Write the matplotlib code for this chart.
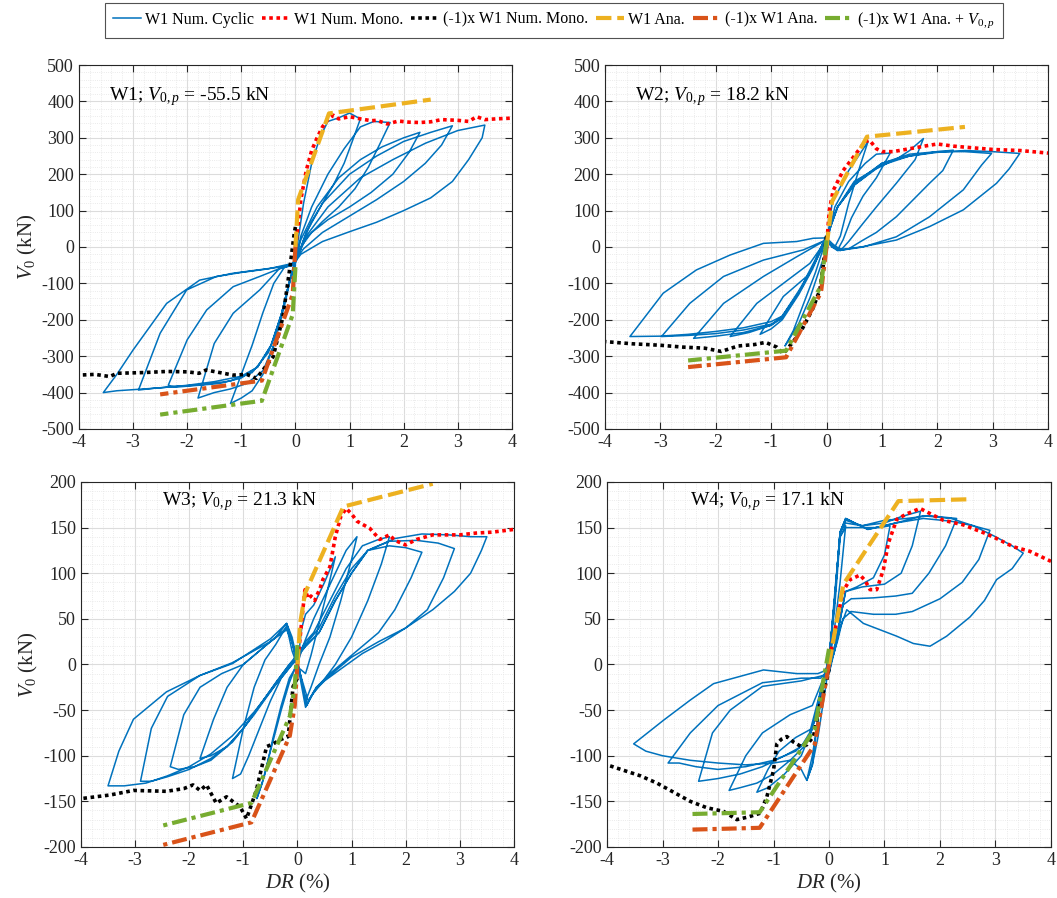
import numpy as np
import matplotlib
matplotlib.use("Agg")
import matplotlib.pyplot as plt
from matplotlib.ticker import MultipleLocator

plt.rcParams['font.family'] = ['Liberation Serif', 'DejaVu Serif']
plt.rcParams['mathtext.fontset'] = 'custom'
plt.rcParams['mathtext.rm'] = 'Liberation Serif'
plt.rcParams['mathtext.it'] = 'Liberation Serif:italic'
plt.rcParams['axes.unicode_minus'] = False

# ---- data (DR in %, V0 in kN) ----
panel_names = ["W1", "W2", "W3", "W4"]
v0p_values = ["-55.5", "18.2", "21.3", "17.1"]

# W1 cyclic
w1_cyc_x = [0, 0.05, 0.15, 0.3, 0.45, 0.6, 0.8, 1.0, 1.2,
            1.05, 0.9, 0.7, 0.5, 0.3, 0.15, 0.05, -0.05,
            -0.2, -0.4, -0.6, -0.8, -1.0, -1.2,
            -1.0, -0.8, -0.6, -0.4, -0.25, -0.1, 0,
            0.1, 0.3, 0.6, 0.9, 1.2, 1.45, 1.75,
            1.55, 1.35, 1.1, 0.8, 0.5, 0.2, 0.05, -0.05,
            -0.3, -0.66, -1.15, -1.5, -1.8,
            -1.5, -1.2, -0.9, -0.6, -0.4, -0.2, -0.05,
            0.1, 0.4, 0.8, 1.2, 1.6, 2.0, 2.3,
            2.1, 1.8, 1.4, 1.0, 0.6, 0.3, 0.1, -0.05,
            -0.66, -1.15, -1.64, -2.0, -2.35,
            -2.2, -1.8, -1.4, -1.0, -0.7, -0.45, -0.25, -0.1, 0,
            0.2, 0.5, 1.0, 1.5, 2.0, 2.5, 2.9,
            2.7, 2.4, 2.0, 1.5, 1.0, 0.5, 0.15, -0.05,
            -0.5, -1.0, -1.46, -2.01, -2.5, -2.9,
            -2.6, -2.2, -1.7, -1.2, -0.8, -0.5, -0.3, -0.12, 0,
            0.2, 0.6, 1.2, 1.8, 2.4, 3.0, 3.5,
            3.45, 3.2, 2.9, 2.5, 2.0, 1.5, 1.0, 0.5, 0.1, -0.05,
            -0.23, -1.15, -1.77, -2.38, -3.0, -3.3, -3.55,
            -3.3, -3.0, -2.5, -2.0, -1.5, -1.0, -0.7, -0.45, -0.25, -0.1, 0]
w1_cyc_y = [-30, 20, 120, 230, 300, 345, 355, 368, 352,
            290, 230, 170, 120, 70, 20, -25, -50,
            -55, -100, -180, -270, -350, -430,
            -415, -395, -350, -270, -180, -90, -40,
            30, 110, 200, 270, 330, 345, 342,
            280, 220, 160, 110, 70, 25, -20, -50,
            -60, -118, -182, -265, -415,
            -400, -390, -375, -340, -270, -160, -60,
            20, 110, 190, 240, 275, 300, 315,
            260, 200, 150, 110, 75, 40, 0, -45,
            -81, -109, -173, -255, -380,
            -385, -380, -375, -360, -330, -270, -180, -90, -45,
            40, 120, 200, 250, 290, 315, 333,
            280, 230, 180, 130, 85, 40, -5, -45,
            -60, -70, -81, -118, -237, -393,
            -388, -383, -378, -368, -345, -290, -210, -100, -40,
            30, 110, 190, 240, 285, 320, 335,
            300, 240, 180, 135, 100, 68, 42, 15, -20, -50,
            -54, -72, -91, -155, -283, -350, -400,
            -395, -392, -387, -380, -370, -355, -330, -270, -180, -90, -50]

# W2 cyclic
w2_cyc_x = [0, 0.05, 0.1, 0.2, 0.4, 0.6, 0.75,
            0.6, 0.4, 0.25, 0.15, 0.05,
            -0.1, -0.3, -0.5, -0.75,
            -0.6, -0.4, -0.2, -0.05, 0.05,
            0.15, 0.4, 0.7, 0.9, 1.15,
            0.9, 0.66, 0.45, 0.3, 0.2, 0.1, 0,
            -0.36, -0.78, -1.0, -1.2,
            -1.0, -0.8, -0.5, -0.25, -0.05, 0.05,
            0.2, 0.5, 0.9, 1.3, 1.5, 1.75,
            1.6, 1.26, 0.9, 0.66, 0.4, 0.25, 0.1, 0,
            -0.3, -0.78, -1.26, -1.74,
            -1.4, -1.0, -0.8, -0.5, -0.25, -0.05, 0.05,
            0.2, 0.5, 1.0, 1.5, 2.0, 2.29,
            2.1, 1.86, 1.26, 0.9, 0.66, 0.4, 0.2, 0.1, 0,
            -0.54, -1.14, -1.86, -2.4,
            -2.0, -1.5, -1.0, -0.8, -0.5, -0.25, -0.05, 0.05,
            0.2, 0.5, 1.0, 1.5, 2.0, 2.5, 2.98,
            2.8, 2.47, 1.86, 1.26, 0.66, 0.3, 0.1, 0,
            -0.42, -1.14, -1.86, -2.47, -2.98,
            -2.5, -2.0, -1.5, -1.0, -0.8, -0.5, -0.25, -0.05, 0.05,
            0.2, 0.5, 1.0, 1.5, 2.0, 2.5, 3.0, 3.49,
            3.3, 3.07, 2.47, 1.86, 1.26, 0.66, 0.24, 0.1, 0,
            -0.24, -0.54, -1.14, -1.74, -2.35, -2.95, -3.55,
            -3.0, -2.5, -2.0, -1.5, -1.0, -0.8, -0.5, -0.25, 0]
w2_cyc_y = [0, 60, 120, 150, 210, 255, 290,
            220, 120, 30, 0, 10,
            -50, -140, -210, -272,
            -230, -150, -70, 0, 40,
            110, 180, 230, 255, 258,
            190, 140, 80, 20, -8, 5, 25,
            -81, -136, -190, -240,
            -225, -200, -130, -60, 10, 50,
            110, 170, 215, 245, 265, 298,
            240, 175, 110, 65, 15, -10, 0, 20,
            -45, -100, -155, -246,
            -235, -215, -190, -120, -55, 15, 50,
            110, 180, 225, 250, 262, 266,
            210, 175, 83, 40, 19, -5, -10, 0, 20,
            -27, -81, -155, -251,
            -245, -235, -215, -195, -125, -55, 15, 45,
            110, 170, 230, 255, 262, 262, 257,
            225, 157, 83, 28, 0, -8, 5, 20,
            -8, -36, -81, -155, -246,
            -243, -238, -228, -212, -195, -125, -55, 15, 45,
            110, 175, 230, 250, 260, 265, 262, 257,
            215, 175, 102, 56, 19, 1, -8, 10, 25,
            24, 15, 10, -22, -63, -127, -246,
            -245, -240, -232, -222, -205, -190, -125, -55, 20]

# W3 cyclic
w3_cyc_x = [0, 0.08, 0.15, 0.3, 0.5, 0.7,
            0.55, 0.4, 0.25, 0.15, 0.05, -0.05,
            -0.15, -0.3, -0.5, -0.65, -0.75,
            -0.6, -0.45, -0.3, -0.15, 0, 0.1,
            0.3, 0.5, 0.7, 0.9, 1.1,
            1.0, 0.8, 0.6, 0.4, 0.25, 0.15, 0.05, -0.1, -0.2,
            -0.4, -0.6, -0.8, -1.0, -1.2,
            -1.05, -0.9, -0.7, -0.5, -0.3, -0.1, 0.05, 0.15,
            0.3, 0.6, 0.9, 1.2, 1.5, 1.7,
            1.55, 1.3, 1.0, 0.7, 0.45, 0.25, 0.15, 0.05, -0.1, -0.2,
            -0.4, -0.7, -1.0, -1.3, -1.55, -1.8,
            -1.6, -1.3, -1.0, -0.7, -0.4, -0.15, 0.05, 0.15,
            0.4, 0.7, 1.0, 1.3, 1.7, 2.0, 2.3,
            2.1, 1.8, 1.5, 1.2, 0.9, 0.6, 0.35, 0.2, 0.05, -0.1, -0.2,
            -0.5, -1.0, -1.4, -1.8, -2.1, -2.35,
            -2.2, -1.9, -1.6, -1.3, -1.0, -0.7, -0.4, -0.15, 0.05, 0.15,
            0.4, 0.7, 1.0, 1.3, 1.7, 2.2, 2.6, 2.9,
            2.7, 2.4, 2.0, 1.6, 1.2, 0.8, 0.5, 0.3, 0.17, 0.05, -0.1, -0.2,
            -0.5, -1.2, -1.8, -2.4, -2.7, -2.9,
            -2.7, -2.4, -2.0, -1.6, -1.2, -0.8, -0.5, -0.2, 0, 0.15,
            0.4, 0.7, 1.0, 1.3, 1.8, 2.3, 2.8, 3.2, 3.5,
            3.4, 3.2, 2.9, 2.5, 2.0, 1.5, 1.0, 0.6, 0.35, 0.17, 0.05, -0.1, -0.2,
            -0.5, -1.2, -1.8, -2.42, -3.03, -3.3, -3.5,
            -3.2, -2.8, -2.4, -2.0, -1.6, -1.2, -0.8, -0.4, -0.1, 0]
w3_cyc_y = [0, 40, 55, 65, 90, 118,
            80, 45, 10, -10, -5, -5,
            -20, -50, -95, -130, -147,
            -120, -80, -45, -15, 0, 20,
            50, 75, 100, 125, 140,
            115, 70, 30, 0, -25, -40, -10, 15, 42,
            22, 5, -25, -70, -125,
            -120, -100, -70, -40, -15, 0, 15, 25,
            35, 70, 105, 130, 137, 140,
            110, 70, 30, 0, -20, -35, -47, -15, 25, 45,
            30, 15, 0, -25, -60, -103,
            -100, -90, -70, -45, -20, 0, 15, 22,
            40, 75, 105, 125, 130, 128, 123,
            95, 60, 35, 20, 5, -10, -25, -40, -10, 25, 38,
            25, 0, -10, -25, -55, -112,
            -115, -112, -105, -90, -70, -45, -20, 0, 12, 20,
            35, 70, 100, 125, 135, 136, 133, 127,
            95, 60, 40, 25, 12, -5, -18, -30, -45, -10, 25, 40,
            25, 2, -12, -35, -70, -128,
            -128, -123, -115, -103, -85, -55, -30, -5, 10, 20,
            35, 70, 100, 125, 138, 143, 142, 140, 140,
            125, 100, 80, 60, 40, 25, 8, -12, -25, -45, -10, 30, 45,
            28, 1, -12, -30, -60, -95, -133,
            -133, -130, -122, -112, -98, -78, -52, -22, 0, 5]

# W4 cyclic
w4_cyc_x = [0, 0.05, 0.12, 0.2, 0.3,
            0.2, 0.1, 0, -0.1, -0.2, -0.3, -0.4,
            -0.3, -0.2, -0.1, 0, 0.1, 0.2, 0.3,
            0.6, 0.9, 1.1,
            1.0, 0.8, 0.5, 0.3, 0.2, 0.1, 0, -0.1,
            -0.3, -0.6, -0.9, -1.1, -1.3,
            -1.1, -0.8, -0.5, -0.3, -0.15, 0, 0.1, 0.2, 0.3,
            0.6, 1.0, 1.3, 1.65,
            1.5, 1.3, 1.0, 0.6, 0.3, 0.2, 0.1, 0, -0.1,
            -0.3, -0.7, -1.2, -1.5, -1.8,
            -1.6, -1.3, -1.0, -0.7, -0.45, -0.3, -0.15, 0, 0.1, 0.2, 0.3,
            0.6, 1.0, 1.4, 1.8, 2.3,
            2.1, 1.8, 1.5, 1.2, 0.8, 0.4, 0.25, 0.15, 0, -0.1,
            -0.5, -1.2, -1.78, -2.1, -2.35,
            -2.0, -1.6, -1.2, -0.8, -0.5, -0.35, -0.2, 0, 0.1, 0.2, 0.3,
            0.7, 1.2, 1.7, 2.2, 2.6, 2.9,
            2.7, 2.4, 2.0, 1.5, 1.2, 0.8, 0.4, 0.25, 0.15, 0, -0.15,
            -0.5, -1.2, -2.0, -2.5, -2.9,
            -2.7, -2.4, -2.0, -1.5, -1.0, -0.6, -0.35, -0.2, 0, 0.1, 0.2, 0.3,
            0.7, 1.2, 1.7, 2.2, 2.6, 3.0, 3.3, 3.5,
            3.3, 3.02, 2.8, 2.54, 2.12, 1.82, 1.52, 1.22, 0.62, 0.32, 0.2, 0.1, 0, -0.2,
            -0.58, -1.18, -2.08, -2.5, -2.98, -3.52,
            -3.3, -3.0, -2.5, -2.0, -1.5, -1.0, -0.7, -0.5, -0.4, -0.3, -0.2, -0.1, 0]
w4_cyc_y = [0, 40, 90, 140, 152,
            90, 40, 0, -40, -80, -110, -127,
            -100, -60, -20, 10, 60, 140, 150,
            150, 150, 152,
            120, 95, 85, 80, 50, 20, -10, -20,
            -70, -80, -95, -115, -140,
            -135, -120, -100, -70, -30, 5, 70, 145, 155,
            152, 155, 162, 168,
            130, 100, 88, 85, 80, 50, 15, -10, -15,
            -45, -55, -75, -100, -138,
            -135, -130, -120, -105, -90, -70, -30, 5, 70, 145, 158,
            152, 158, 160, 163, 160,
            130, 100, 78, 75, 73, 72, 65, 30, -5, -12,
            -18, -24, -50, -75, -128,
            -125, -120, -112, -100, -90, -75, -40, 5, 70, 145, 160,
            148, 155, 160, 157, 152, 147,
            115, 90, 72, 58, 55, 55, 58, 50, 25, -5, -15,
            -15, -20, -45, -75, -108,
            -108, -112, -115, -112, -105, -95, -80, -45, 5, 70, 145, 160,
            148, 155, 163, 160, 152, 140, 130, 122,
            105, 93, 70, 52, 31, 20, 23, 31, 45, 60, 40, 15, -5, -10,
            -10, -6, -21, -39, -61, -87,
            -95, -100, -105, -108, -110, -108, -105, -115, -127, -110, -60, -20, 10]

# numerical monotonic (W1 Num. Mono.)
w1_mono_x = [0, 0.05, 0.1, 0.2, 0.3, 0.4, 0.5, 0.6, 0.7, 0.8, 0.9, 1.0, 1.2, 1.4, 1.5, 1.7, 1.9, 2.1,
             2.3, 2.5, 2.7, 3.0, 3.2, 3.35, 3.5, 3.7, 4.0]
w1_mono_y = [0, 60, 130, 210, 265, 300, 330, 350, 362, 352, 355, 358, 352, 347, 348, 338, 346, 343,
             342, 344, 350, 348, 345, 358, 350, 352, 354]
w2_mono_x = [0, 0.05, 0.12, 0.3, 0.5, 0.7, 0.78, 0.9, 1.0, 1.2, 1.5, 1.8, 2.0, 2.3, 2.6, 3.0, 3.5, 4.0]
w2_mono_y = [0, 100, 155, 210, 250, 290, 293, 270, 262, 262, 270, 278, 283, 277, 273, 268, 265, 258]
w3_mono_x = [0, 0.1, 0.14, 0.2, 0.25, 0.32, 0.36, 0.41, 0.47, 0.6, 0.7, 0.8, 0.9, 1.0, 1.1, 1.34,
             1.52, 1.7, 1.8, 2.0, 2.2, 2.5, 3.0, 3.3, 3.6, 4.0]
w3_mono_y = [0, 60, 82, 72, 75, 70, 76, 82, 93, 107, 140, 162, 171, 165, 157, 149,
             137, 142, 136, 131, 137, 142, 142, 144, 145, 148]
w4_mono_x = [0, 0.05, 0.15, 0.25, 0.38, 0.56, 0.65, 0.74, 0.86, 0.98, 1.07, 1.22, 1.4, 1.64, 1.8,
             2.06, 2.42, 2.8, 3.02, 3.32, 3.62, 4.0]
w4_mono_y = [0, 20, 50, 80, 93, 98, 92, 82, 82, 104, 133, 159, 165, 171, 166,
             158, 153, 144, 138, 129, 124, 113]

# (-1)x numerical monotonic
w1_neg_x = [0, -0.02, -0.1, -0.23, -0.41, -0.6, -0.72, -0.9, -1.15, -1.4, -1.65, -1.78, -2.0,
            -2.38, -2.8, -3.3, -3.43, -3.7, -4.0]
w1_neg_y = [55, 40, -54, -191, -301, -338, -361, -350, -352, -345, -338, -347, -343,
            -342, -345, -347, -356, -350, -352]
w2_neg_x = [0, -0.05, -0.12, -0.25, -0.42, -0.6, -0.78, -0.9, -1.1, -1.3, -1.6, -1.9, -2.2, -2.6,
            -3.0, -3.5, -4.0]
w2_neg_y = [30, -40, -118, -170, -220, -260, -293, -275, -262, -268, -272, -287, -278, -275,
            -270, -266, -260]
w3_neg_x = [0, -0.08, -0.17, -0.3, -0.45, -0.57, -0.76, -0.94, -1.06, -1.31, -1.5, -1.68, -1.8,
            -1.93, -2.1, -2.42, -3.03, -3.46, -4.0]
w3_neg_y = [-15, -24, -79, -82, -87, -90, -138, -169, -156, -145, -152, -132, -138,
            -132, -136, -139, -138, -143, -147]
w4_neg_x = [0, -0.04, -0.16, -0.28, -0.4, -0.5, -0.64, -0.76, -0.86, -0.94, -1.0, -1.12, -1.24,
            -1.45, -1.66, -1.9, -2.2, -2.5, -2.8, -3.1, -3.4, -3.7, -4.0]
w4_neg_y = [-5, -17, -43, -79, -88, -90, -85, -79, -82, -87, -116, -145, -163,
            -167, -170, -161, -157, -150, -140, -130, -122, -116, -110]

# analytical (trilinear) curves
w1_ana_x = [0, 0.05, 0.62, 2.5]
w1_ana_y = [0, 130, 367, 405]
w2_ana_x = [0, 0.1, 0.73, 2.5]
w2_ana_y = [0, 125, 303, 330]
w3_ana_x = [0, 0.05, 0.14, 0.85, 2.5]
w3_ana_y = [0, 45, 78, 173, 198]
w4_ana_x = [0, 0.26, 1.25, 2.5]
w4_ana_y = [0, 88, 179, 181]
v0p_shift = [-55.5, 18.2, 21.3, 17.1]

cyc_x = [w1_cyc_x, w2_cyc_x, w3_cyc_x, w4_cyc_x]
cyc_y = [w1_cyc_y, w2_cyc_y, w3_cyc_y, w4_cyc_y]
mono_x = [w1_mono_x, w2_mono_x, w3_mono_x, w4_mono_x]
mono_y = [w1_mono_y, w2_mono_y, w3_mono_y, w4_mono_y]
neg_x = [w1_neg_x, w2_neg_x, w3_neg_x, w4_neg_x]
neg_y = [w1_neg_y, w2_neg_y, w3_neg_y, w4_neg_y]
ana_x = [w1_ana_x, w2_ana_x, w3_ana_x, w4_ana_x]
ana_y = [w1_ana_y, w2_ana_y, w3_ana_y, w4_ana_y]

# ---- layout ----
fig = plt.figure(figsize=(10.57, 8.98), dpi=100)
positions = [[0.0747, 0.5223, 0.4096, 0.4053],
             [0.5724, 0.5223, 0.4191, 0.4053],
             [0.0766, 0.0568, 0.4096, 0.4065],
             [0.5743, 0.0568, 0.4200, 0.4065]]

c_blue = "#0072BD"
c_red = "#FF0000"
c_yel = "#EDB120"
c_ora = "#D95319"
c_grn = "#77AC30"
c_axis = "#262626"

handles = None
for i in range(4):
    ax = fig.add_axes(positions[i])
    ax.set_axisbelow(True)
    ax.grid(which="major", color="#dcdcdc", lw=0.8)
    ax.grid(which="minor", color="#e4e4e4", lw=0.6, linestyle=":")

    h1, = ax.plot(cyc_x[i], cyc_y[i], color=c_blue, lw=1.1)
    h2, = ax.plot(mono_x[i], mono_y[i], color=c_red, lw=2.6, dashes=(1, 1))
    h3, = ax.plot(neg_x[i], neg_y[i], color="black", lw=2.6, dashes=(1, 1))
    h4, = ax.plot(ana_x[i], ana_y[i], color=c_yel, lw=3.0, dashes=(3.7, 1.4))
    nx = [-v for v in ana_x[i]]
    ny = [-v for v in ana_y[i]]
    h5, = ax.plot(nx, ny, color=c_ora, lw=3.0, dashes=(3.6, 1.2, 1.0, 1.2))
    h6, = ax.plot(nx, [v + v0p_shift[i] for v in ny], color=c_grn, lw=3.0, dashes=(3.6, 1.2, 1.0, 1.2))
    handles = [h1, h2, h3, h4, h5, h6]

    ax.set_xlim(-4, 4)
    ax.xaxis.set_major_locator(MultipleLocator(1))
    ax.xaxis.set_minor_locator(MultipleLocator(0.2))
    if i < 2:
        ax.set_ylim(-500, 500)
        ax.yaxis.set_major_locator(MultipleLocator(100))
        ax.yaxis.set_minor_locator(MultipleLocator(20))
        ty = 412
        tx = -3.45
    else:
        ax.set_ylim(-200, 200)
        ax.yaxis.set_major_locator(MultipleLocator(50))
        ax.yaxis.set_minor_locator(MultipleLocator(10))
        ty = 178
        tx = -2.5
    ax.tick_params(which="major", direction="in", top=True, right=True, length=5,
                   labelsize=13, width=0.8, color=c_axis, labelcolor=c_axis)
    ax.tick_params(which="minor", length=0, top=True, right=True)
    for s in ax.spines.values():
        s.set_linewidth(0.8)
        s.set_color(c_axis)

    ax.text(tx, ty, panel_names[i] + r"; $V_{\mathit{0,p}}$ = " + v0p_values[i] + " kN",
            fontsize=14, va="center", ha="left")
    if i % 2 == 0:
        ax.set_ylabel(r"$V_0$ (kN)", fontsize=15, labelpad=2, color=c_axis)
    if i >= 2:
        ax.set_xlabel(r"$DR$ (%)", fontsize=15, labelpad=2, color=c_axis)

labels = ["W1 Num. Cyclic", "W1 Num. Mono.", "(-1)x W1 Num. Mono.", "W1 Ana.",
          "(-1)x W1 Ana.", r"(-1)x W1 Ana. + $V_{\mathit{0,p}}$"]
leg = fig.legend(handles, labels, loc="upper center", bbox_to_anchor=(0.524, 0.997), ncol=6,
                 fontsize=11.5, frameon=True, fancybox=False, edgecolor=c_axis,
                 handlelength=1.75, handletextpad=0.25, columnspacing=0.5, borderpad=0.5,
                 borderaxespad=0)
leg.get_frame().set_linewidth(0.8)

fig.savefig("out.png", dpi=100)
